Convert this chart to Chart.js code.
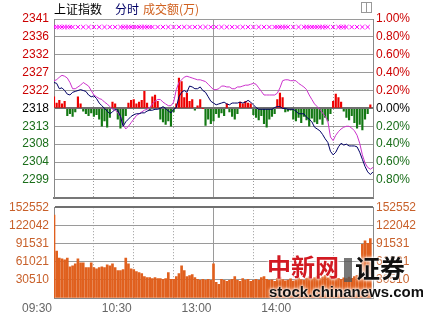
<!DOCTYPE html>
<html>
<head>
<meta charset="utf-8">
<script src="https://cdn.jsdelivr.net/npm/chart.js@4.4.1/dist/chart.umd.min.js"></script>
<style>
  body { margin: 0; width: 423px; height: 313px; position: relative; overflow: hidden; background: #fff; }
  .box { position: absolute; left: 0; width: 423px; }
  .t { position: absolute; top: 2px; font: 12px/13px "Noto Sans CJK SC", sans-serif; white-space: nowrap; }
  .wm { position: absolute; white-space: nowrap; text-shadow: 0 0 2px #fff, 0 0 3px #fff, 0 0 4px #fff; }
</style>
</head>
<body>
<div class="box" style="top:0;height:210px"><canvas id="chartPrecio"></canvas></div>
<div class="box" style="top:195px;height:118px"><canvas id="chartVolumen"></canvas></div>

<span class="t" style="left:54px;color:#000">上证指数</span>
<span class="t" style="left:115px;color:#000066">分时</span>
<span class="t" style="left:143px;color:#d0601e">成交额(万)</span>
<div style="position:absolute;left:361px;top:2px;width:9px;height:9px;border:1px solid #999">
  <div style="position:absolute;left:4px;top:0;width:0;height:9px;border-left:1px solid #999"></div>
</div>

<span class="wm" style="left:267px;top:252px;font:bold 24px/28px 'Noto Sans CJK SC';color:#d21a22">中新网</span>
<div style="position:absolute;left:344px;top:258px;width:8px;height:24px;background:#555;opacity:.8"></div>
<span class="wm" style="left:355px;top:253px;font:bold 25px/28px 'Noto Sans CJK SC';color:#111">证券</span>
<span class="wm" style="left:269px;top:284px;font:bold 15px/16px 'Liberation Sans';color:#111">stock.chinanews.com</span>

<script>
// eje de tiempo: 0 = 09:30, 120 = 11:30/13:00, 240 = 15:00 (minutos de sesion)
const xTicks = [0, 30, 60, 90, 120, 150, 180, 210, 240]
const xLabels = ['09:30', '', '10:30', '', '13:00', '', '14:00', '', '']

// eje de precio (en % sobre cierre anterior)
const pctTicks = [1.0, 0.8, 0.6, 0.4, 0.2, 0, -0.2, -0.4, -0.6, -0.8]
const priceLabels = ['2341', '2336', '2332', '2327', '2322', '2318', '2313', '2308', '2304', '2299']
const pctLabels = ['1.00%', '0.80%', '0.60%', '0.40%', '0.20%', '0.00%', '0.20%', '0.40%', '0.60%', '0.80%']

// eje de volumen
const volTicks = [0, 30510, 61021, 91531, 122042, 152552]
const volLabels = ['', '30510', '61021', '91531', '122042', '152552']

// indice (azul), cada 2 minutos
const indexPct = [
  0.29, 0.28, 0.22, 0.23, 0.20, 0.16, 0.15, 0.18, 0.19, 0.20,
  0.21, 0.20, 0.19, 0.15, 0.13, 0.14, 0.11, 0.06, 0.03, 0.00,
  -0.03, -0.06, -0.04, -0.01, -0.02, -0.09, -0.20, -0.15, -0.12, -0.09,
  -0.07, -0.06, -0.06, -0.05, -0.05, -0.03, -0.02, -0.02, -0.01, -0.01,
  0.00, 0.02, 0.00, -0.03, -0.05, -0.01, 0.01, 0.13, 0.18, 0.20,
  0.18, 0.25, 0.24, 0.22, 0.22, 0.24, 0.20, 0.18, 0.13, 0.08,
  0.06, 0.04, 0.05, 0.06, 0.07, 0.05, 0.04, 0.06, 0.06, 0.06,
  0.07, 0.06, 0.07, 0.09, 0.07, 0.04, 0.01, -0.01, -0.01, -0.01,
  -0.01, -0.01, -0.01, 0.01, 0.02, 0.02, 0.00, 0.00, -0.01, -0.01,
  -0.01, -0.03, -0.06, -0.06, -0.06, -0.10, -0.12, -0.15, -0.21, -0.23,
  -0.25, -0.29, -0.34, -0.38, -0.48, -0.52, -0.49, -0.43, -0.39, -0.41,
  -0.40, -0.42, -0.42, -0.42, -0.43, -0.49, -0.57, -0.65, -0.71, -0.74,
  -0.71
]

// linea lider (magenta)
const leadPct = [
  0.31, 0.32, 0.35, 0.37, 0.36, 0.34, 0.29, 0.22, 0.22, 0.24,
  0.26, 0.29, 0.27, 0.25, 0.20, 0.15, 0.13, 0.11, 0.10, 0.07,
  0.05, 0.02, -0.01, -0.02, -0.05, -0.09, -0.18, -0.23, -0.20, -0.16,
  -0.12, -0.08, -0.06, -0.04, -0.02, -0.01, 0.01, 0.05, 0.08, 0.10,
  0.10, 0.07, 0.05, 0.03, 0.03, 0.07, 0.21, 0.29, 0.32, 0.35,
  0.36, 0.35, 0.34, 0.33, 0.32, 0.32, 0.31, 0.30, 0.27, 0.24,
  0.21, 0.21, 0.22, 0.25, 0.25, 0.24, 0.24, 0.22, 0.22, 0.24,
  0.24, 0.25, 0.26, 0.26, 0.27, 0.28, 0.27, 0.23, 0.19, 0.15,
  0.15, 0.15, 0.15, 0.15, 0.17, 0.23, 0.31, 0.32, 0.32, 0.31,
  0.31, 0.31, 0.28, 0.26, 0.24, 0.21, 0.15, 0.10, 0.05, 0.02,
  -0.01, -0.05, -0.09, -0.14, -0.32, -0.36, -0.30, -0.26, -0.23, -0.21,
  -0.20, -0.20, -0.22, -0.25, -0.30, -0.39, -0.52, -0.61, -0.66, -0.68,
  -0.66
]

// barras rojo/verde sobre la linea 0
const flowPct = [
  0.13, 0.06, 0.09, 0.05, 0.08, -0.08, -0.06, -0.09, -0.04, 0.13,
  0.05, -0.03, -0.06, -0.08, -0.05, -0.09, -0.07, -0.12, -0.20, -0.14,
  -0.21, -0.10, 0.07, 0.05, -0.12, -0.22, -0.18, -0.08, 0.06, 0.09,
  0.10, 0.05, 0.07, 0.09, 0.19, 0.06, -0.02, 0.13, 0.15, 0.08,
  -0.12, -0.15, -0.18, -0.14, -0.20, -0.04, 0.05, 0.34, 0.30, 0.12,
  0.17, 0.08, 0.10, -0.02, 0.03, 0.10, 0.00, -0.19, -0.12, -0.17,
  -0.14, -0.06, -0.10, -0.05, -0.08, 0.05, -0.04, -0.09, -0.12, -0.06,
  0.07, 0.05, 0.08, 0.06, 0.05, -0.07, -0.10, -0.13, -0.08, -0.17,
  -0.21, -0.12, -0.09, -0.06, 0.10, 0.17, 0.12, -0.04, -0.03, -0.02,
  -0.12, -0.14, -0.10, -0.16, -0.09, -0.13, -0.20, -0.11, -0.15, -0.17,
  -0.12, -0.18, -0.10, -0.14, -0.06, 0.08, 0.16, 0.12, 0.07, -0.03,
  -0.10, -0.13, -0.08, -0.16, -0.22, -0.18, -0.24, -0.12, -0.06, 0.04
]

// volumen (万)
const volumen = [
  139400, 78700, 67200, 65600, 64000, 67200, 52500, 54100, 57400, 65600,
  59000, 59000, 50900, 50900, 59000, 50900, 49200, 50900, 52500, 50900,
  55800, 54100, 57400, 50900, 45900, 45900, 47600, 67200, 57400, 49200,
  47600, 44300, 42600, 41000, 36100, 34400, 34400, 32800, 34400, 32800,
  32800, 31200, 32800, 42600, 31200, 31200, 36100, 41000, 54100, 45900,
  36100, 37700, 39400, 34400, 31200, 29500, 31200, 29500, 31200, 29500,
  57400, 26200, 23000, 31200, 29500, 27900, 29500, 31200, 36100, 29500,
  27900, 32800, 29500, 31200, 27900, 29500, 31200, 29500, 34400, 36100,
  31200, 29500, 30500, 28000, 33000, 35000, 31000, 29000, 30000, 32000,
  28500, 30500, 34000, 31000, 29500, 33500, 36000, 32000, 34500, 37000,
  33000, 35500, 38000, 34000, 39000, 36500, 35000, 33000, 31500, 34000,
  32500, 35000, 33000, 36000, 38000, 41000, 90000, 96000, 92000, 100000
]

// marcas x magenta (minuto)
const signalMinutes = [
  0, 2, 4, 6, 8, 10, 12, 14, 18, 22, 26, 30, 34, 38, 42, 46, 50,
  52, 54, 56, 58, 60, 62, 64, 66, 68, 70, 72, 74,
  78, 82, 86, 90, 94, 98, 102, 106, 110, 114, 118, 122, 126, 130, 134, 138, 142, 146, 150, 154, 158, 162,
  166, 168, 170, 172, 174, 176, 180, 184, 188,
  190, 192, 194, 196, 198, 200, 202, 204, 206, 210,
  214, 216, 218, 220, 224, 228, 232, 236
]
const signalLevel = 0.91

const rojo = '#cc0000'
const verde = '#1a6e1a'
const naranja = '#c8602a'
const fuente = { family: "'Liberation Sans', Arial, sans-serif", size: 12 }

// un punto cada 2 minutos
const minuto = i => i * 2
const xy = arr => arr.map((y, i) => ({ x: minuto(i), y }))

const dashX = ctx => (ctx.type === 'tick' && ctx.tick.value !== 120) ? [1, 2] : []
const setTicks = lista => scale => { scale.ticks = lista.slice().sort((a, b) => a - b).map(v => ({ value: v })) }
const colorPct = ctx => ctx.tick.value > 0 ? rojo : (ctx.tick.value < 0 ? verde : '#000')

const ejeX = (conTexto) => ({
    type: 'linear',
    min: 0,
    max: 240,
    offset: false,
    afterBuildTicks: setTicks(xTicks),
    afterFit: s => { s.height = conTexto ? 15 : 0 },
    ticks: {
        display: conTexto,
        autoSkip: false,
        maxRotation: 0,
        align: 'end',
        labelOffset: -2,
        padding: 3,
        color: '#666',
        font: fuente,
        callback: v => xLabels[xTicks.indexOf(v)]
    },
    grid: { offset: false, drawTicks: false, color: '#9a9a9a', lineWidth: 1 },
    border: { display: true, color: conTexto ? '#888' : '#777', width: conTexto ? 1 : 2, dash: dashX }
})

const chartPrecio = new Chart(document.getElementById('chartPrecio'), {
    type: 'bar',
    data: {
        datasets: [
            {
                type: 'scatter',
                data: signalMinutes.map(m => ({ x: m, y: signalLevel })),
                pointStyle: 'crossRot',
                pointRadius: 3,
                borderColor: '#ff00ff',
                borderWidth: 1,
                order: 0
            },
            {
                type: 'line',
                data: xy(indexPct),
                borderColor: '#000066',
                borderWidth: 1,
                pointRadius: 0,
                tension: 0,
                order: 1
            },
            {
                type: 'line',
                data: xy(leadPct),
                borderColor: '#cc33cc',
                borderWidth: 1,
                pointRadius: 0,
                tension: 0,
                order: 2
            },
            {
                type: 'bar',
                data: xy(flowPct),
                backgroundColor: ctx => (ctx.raw && ctx.raw.y >= 0) ? '#ee0000' : '#137813',
                barThickness: 1.5,
                order: 3
            }
        ]
    },
    options: {
        responsive: true,
        maintainAspectRatio: false,
        animation: false,
        layout: { padding: { top: 19, bottom: 5, left: 0, right: 0 } },
        plugins: { legend: { display: false }, tooltip: { enabled: false } },
        scales: {
            x: ejeX(false),
            y: {
                position: 'left',
                min: -1,
                max: 1,
                afterBuildTicks: setTicks(pctTicks),
                afterFit: s => { s.width = 54 },
                ticks: { padding: 5, font: fuente, color: colorPct, callback: v => priceLabels[pctTicks.indexOf(v)] },
                grid: {
                    drawTicks: false,
                    color: ctx => ctx.tick && ctx.tick.value === 0 ? '#707070' : '#9a9a9a',
                    lineWidth: ctx => ctx.tick && ctx.tick.value === 0 ? 2 : 1
                },
                border: { display: true, color: '#888', width: 1 }
            },
            y2: {
                position: 'right',
                min: -1,
                max: 1,
                afterBuildTicks: setTicks(pctTicks),
                afterFit: s => { s.width = 50 },
                ticks: { padding: 3, font: fuente, color: colorPct, callback: v => pctLabels[pctTicks.indexOf(v)] },
                grid: { drawTicks: false, drawOnChartArea: false },
                border: { display: true, color: '#888', width: 1 }
            }
        }
    }
})

const chartVolumen = new Chart(document.getElementById('chartVolumen'), {
    type: 'bar',
    data: {
        datasets: [{
            data: xy(volumen),
            backgroundColor: '#e0601e',
            barThickness: 2
        }]
    },
    options: {
        responsive: true,
        maintainAspectRatio: false,
        animation: false,
        layout: { padding: { top: 10, bottom: 0, left: 0, right: 0 } },
        plugins: { legend: { display: false }, tooltip: { enabled: false } },
        scales: {
            x: ejeX(true),
            y: {
                position: 'left',
                min: 0,
                max: 152552,
                afterBuildTicks: setTicks(volTicks),
                afterFit: s => { s.width = 54 },
                ticks: { padding: 5, font: fuente, color: naranja, callback: v => volLabels[volTicks.indexOf(v)] },
                grid: {
                    drawTicks: false,
                    color: ctx => ctx.tick && ctx.tick.value === 152552 ? '#707070' : '#9a9a9a',
                    lineWidth: ctx => ctx.tick && ctx.tick.value === 152552 ? 2 : 1
                },
                border: { display: true, color: '#888', width: 1 }
            },
            y2: {
                position: 'right',
                min: 0,
                max: 152552,
                afterBuildTicks: setTicks(volTicks),
                afterFit: s => { s.width = 50 },
                ticks: { padding: 3, font: fuente, color: naranja, callback: v => volLabels[volTicks.indexOf(v)] },
                grid: { drawTicks: false, drawOnChartArea: false },
                border: { display: true, color: '#888', width: 1 }
            }
        }
    }
})
</script>
</body>
</html>
